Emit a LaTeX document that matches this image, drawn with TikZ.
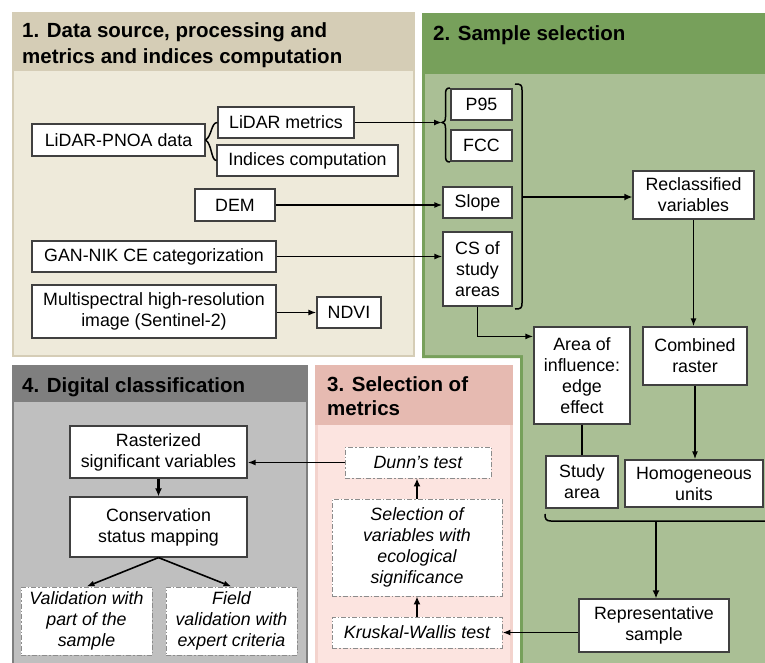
\documentclass[tikz,border=0pt]{standalone}
\usepackage{fontspec}
\setmainfont{Liberation Sans}
\usetikzlibrary{arrows.meta,calc}

\definecolor{pOneHead}{HTML}{D5CDB6}
\definecolor{pOneBody}{HTML}{EEEADA}
\definecolor{pTwoHead}{HTML}{77A05B}
\definecolor{pTwoBody}{HTML}{AABF95}
\definecolor{pThreeHead}{HTML}{E6BAB1}
\definecolor{pThreeBody}{HTML}{FCE4E0}
\definecolor{pThreeEdge}{HTML}{F3D3CD}
\definecolor{pFourHead}{HTML}{7F7F7F}
\definecolor{pFourBody}{HTML}{BFBFBF}
\definecolor{boxline}{HTML}{404040}
\definecolor{dashline}{HTML}{8C8C8C}

\tikzset{
  box/.style={draw=boxline, line width=1.2pt, fill=white, inner sep=0pt,
    align=center, font=\fontsize{17.8}{21}\selectfont},
  dbox/.style={box, draw=dashline, line width=0.9pt,
    dash pattern=on 5pt off 2pt on 1.5pt off 2pt,
    font=\fontsize{17.8}{21}\selectfont\itshape},
  ttl/.style={anchor=base west, inner sep=0pt,
    font=\fontsize{20.5}{26}\selectfont\bfseries},
  ln/.style={draw=black, line width=1.5pt},
  arr/.style={draw=black, line width=1.6pt, -{Latex[length=8pt,width=6pt]}},
  thickarr/.style={draw=black, line width=2.5pt, -{Latex[length=8pt,width=7pt]}},
}

\begin{document}
\begin{tikzpicture}[x=1pt,y=-1pt]
\useasboundingbox (0,0) rectangle (765,662);
\clip (0,0) rectangle (765,662);
\fill[white] (0,0) rectangle (765,662);

% panel 1: data sources
\fill[pOneHead] (12,12) rectangle (415,357);
\fill[pOneBody] (14,71) rectangle (413,355);
\node[ttl] (t1a) at (22,37) {1. Data source, processing and};
\node[ttl] (t1b) at (22,63) {metrics and indices computation};

% panel 2: sample selection (L-shaped)
\fill[pTwoHead] (422,13) -- (770,13) -- (770,665) -- (520,665) -- (520,358) -- (422,358) -- cycle;
\fill[pTwoBody] (425,74) -- (770,74) -- (770,665) -- (523,665) -- (523,355) -- (425,355) -- cycle;
\node[ttl] (t2) at (433,40) {2. Sample selection};

% panel 3: selection of metrics
\fill[pThreeEdge] (315,365) rectangle (513,665);
\fill[pThreeHead] (315,365) rectangle (513,425);
\fill[pThreeBody] (318,425) rectangle (510,665);
\node[ttl] (t3a) at (327,391) {3. Selection of};
\node[ttl] (t3b) at (327,415) {metrics};

% panel 4: digital classification
\fill[pFourHead] (12,365) rectangle (308,665);
\fill[pFourBody] (14,402) rectangle (306,665);
\node[ttl] (t4) at (22,392) {4. Digital classification};

% boxes of panel 1
\node[box, minimum width=173pt, minimum height=32pt] (lidar) at (118.5,140) {LiDAR-PNOA data};
\node[box, minimum width=136pt, minimum height=31pt] (lmet) at (286,122.5) {LiDAR metrics};
\node[box, minimum width=181pt, minimum height=31pt] (indc) at (307.5,160.5) {Indices computation};
\node[box, minimum width=80pt, minimum height=32pt] (dem) at (235,205) {DEM};
\node[box, minimum width=244pt, minimum height=31pt] (gan) at (154,256.5) {GAN-NIK CE categorization};
\node[box, minimum width=244pt, minimum height=53pt] (multi) at (154,311.5) {Multispectral high-resolution\\image (Sentinel-2)};
\node[box, minimum width=64pt, minimum height=31pt] (ndvi) at (349,312.5) {NDVI};

% boxes of panel 2
\node[box, minimum width=61pt, minimum height=31pt] (p95) at (481.5,104.5) {P95};
\node[box, minimum width=61pt, minimum height=31pt] (fcc) at (481.5,145.5) {FCC};
\node[box, minimum width=69pt, minimum height=31pt] (slope) at (477.5,202.5) {Slope};
\node[box, minimum width=69pt, minimum height=74pt] (cs) at (477.5,269) {CS of\\study\\areas};
\node[box, minimum width=121pt, minimum height=48pt] (recl) at (693.5,195) {Reclassified\\variables};
\node[box, minimum width=96pt, minimum height=97pt] (area) at (582,375.5) {Area of\\influence:\\edge\\effect};
\node[box, minimum width=104pt, minimum height=58pt] (comb) at (695,356) {Combined\\raster};
\node[box, minimum width=72pt, minimum height=52pt] (study) at (582,482) {Study\\area};
\node[box, minimum width=138pt, minimum height=47pt] (homo) at (694,483.5) {Homogeneous\\units};
\node[box, minimum width=150pt, minimum height=53pt] (repr) at (654,625.5) {Representative\\sample};

% boxes of panel 3
\node[dbox, minimum width=146pt, minimum height=31pt] (dunn) at (418,462.5) {Dunn’s test};
\node[dbox, minimum width=170pt, minimum height=97pt] (selv) at (417,547.5) {Selection of\\variables with\\ecological\\significance};
\node[dbox, minimum width=170pt, minimum height=31pt] (krus) at (417,632.5) {Kruskal-Wallis test};

% boxes of panel 4
\node[box, minimum width=177pt, minimum height=52pt] (rast) at (158.5,452) {Rasterized\\significant variables};
\node[box, minimum width=177pt, minimum height=60pt] (cons) at (158.5,527) {Conservation\\status mapping};
\node[dbox, minimum width=131pt, minimum height=68pt] (valid) at (86.5,621) {Validation with\\part of the\\sample};
\node[dbox, minimum width=131pt, minimum height=68pt] (field) at (231.5,621) {Field\\validation with\\expert criteria};

% brace splitting the LiDAR data
\draw[ln] (lmet.west) .. controls (211,122.5) and (212,136) .. (lidar.east);
\draw[ln] (indc.west) .. controls (211,160.5) and (212,144) .. (lidar.east);

% brace grouping P95 and FCC
\coordinate (pbt) at (442,122.5);
\draw[ln] (450,88) .. controls (446,88) and (445.5,90) .. (445.5,95) -- (445.5,117)
  .. controls (445.5,121) and (444,122.5) .. (pbt)
  .. controls (444,122.5) and (445.5,124) .. (445.5,128) -- (445.5,155)
  .. controls (445.5,160) and (446,162) .. (450,162);

% bracket closing the reclassified inputs
\coordinate (rb) at (522,197);
\draw[ln] (515,84) .. controls (521,84) and (522,85) .. (522,90) -- (522,303)
  .. controls (522,308) and (521,309) .. (515,309);

% bracket joining study area and homogeneous units
\coordinate (bb) at (656,521);
\draw[ln] (545,514) .. controls (545,519) and (546,521) .. (551,521) -- (770,521);

% connectors
\draw[arr] (lmet.east) -- (pbt);
\draw[arr] (dem.east) -- (dem.east -| slope.west);
\draw[arr] (gan.east) -- (gan.east -| cs.west);
\draw[arr] (multi.east |- ndvi.west) -- (ndvi.west);
\draw[thickarr] (rb) -- (rb -| recl.west);
\draw[arr] (recl.south) -- (recl.south |- comb.north);
\draw[arr] (cs.south) |- ($(area.north west)+(0,10)$);
\draw[ln] (area.south) -- (study.north);
\draw[arr] (comb.south) -- (comb.south |- homo.north);
\draw[thickarr] (bb) -- (bb |- repr.north);
\draw[arr] (repr.west |- krus.east) -- (krus.east);
\draw[thickarr] (krus.north) -- (selv.south);
\draw[thickarr] (selv.north) -- (selv.north |- dunn.south);
\draw[arr] (dunn.west) -- (dunn.west -| rast.east);
\draw[thickarr] (rast.south) -- (cons.north);
\draw[arr] (cons.south) -- (valid.north);
\draw[arr] (cons.south) -- (field.north);
\end{tikzpicture}
\end{document}
